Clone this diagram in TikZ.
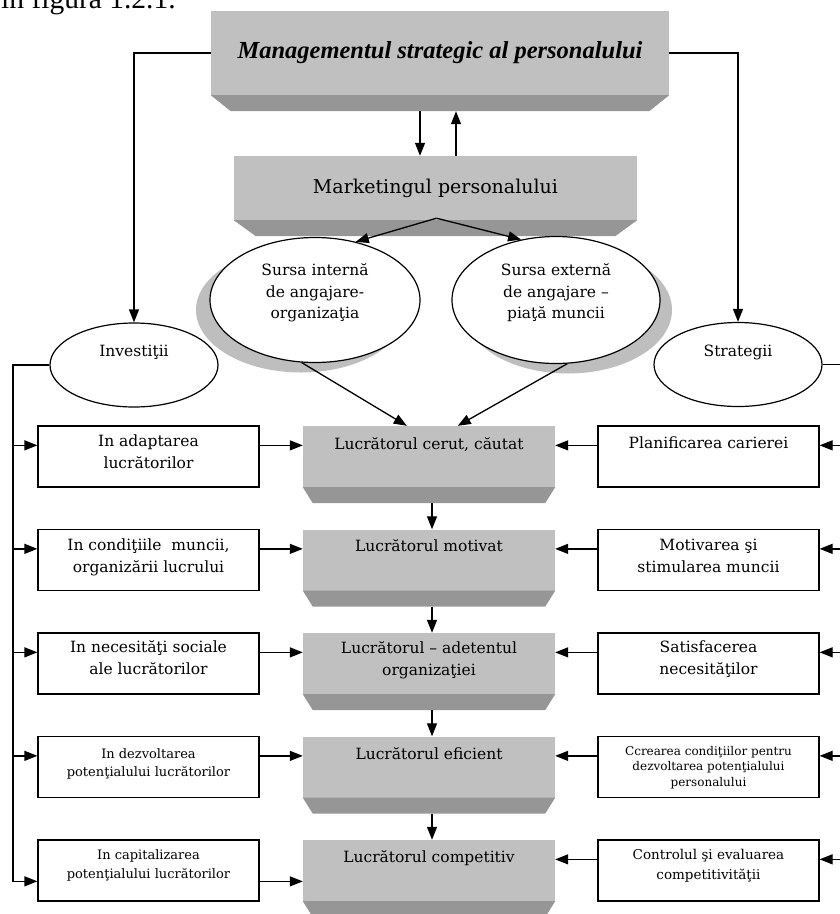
\documentclass[tikz,border=0pt]{standalone}
\usepackage{fontspec}
\setmainfont{DejaVu Serif}
\newfontfamily\titlefont{Liberation Serif}
\usetikzlibrary{arrows.meta,calc,shapes.geometric,shadows}
\definecolor{facegray}{RGB}{192,192,192}
\definecolor{bevelgray}{RGB}{150,150,150}
\definecolor{shadegray}{RGB}{190,190,190}
% darker lower face of a raised block: name, inset, depth
\newcommand\blockbevel[3]{%
  \fill[bevelgray] (#1.south west) -- (#1.south east)
    -- ($(#1.south east)+(-#2,#3)$) -- ($(#1.south west)+(#2,#3)$) -- cycle;}
\begin{document}
\begin{tikzpicture}[x=1pt,y=-1pt,
  every node/.style={inner sep=0pt},
  conn/.style={line width=1.3pt},
  arr/.style={conn,-{Triangle[length=13pt,width=10pt]}},
  face/.style={rectangle,fill=facegray},
  block/.style={face,minimum width=252pt,minimum height=61pt},
  sidebox/.style={rectangle,draw,line width=1.3pt,fill=white,minimum width=221pt,minimum height=61pt},
  ell/.style={ellipse,draw,fill=white,line width=1.2pt},
  shade/.style={drop shadow={shadow xshift=#1,shadow yshift=-10pt,fill=shadegray,opacity=1}},
  txt/.style={anchor=north,align=center,font=\fontsize{15.5}{22}\selectfont},
  smalltxt/.style={anchor=north,align=center,font=\fontsize{13}{18.5}\selectfont},
  etxt/.style={align=center,font=\fontsize{15.5}{21.5}\selectfont}]
\useasboundingbox (0,0) rectangle (840,914);

% line of running text above the scheme
\node[anchor=base west,font=\titlefont\fontsize{29.5}{30}\selectfont] (fig) at (1,8) {în figura 1.2.1.};

% top blocks
\node[face,minimum width=458pt,minimum height=84pt,
      font=\titlefont\bfseries\itshape\fontsize{24.5}{28}\selectfont] (tt) at (440,53)
      {Managementul strategic al personalului};
\blockbevel{tt}{20}{16}
\node[face,minimum width=403pt,minimum height=64pt,font=\fontsize{19}{22}\selectfont] (mk) at (435.5,188)
      {Marketingul personalului};
\blockbevel{mk}{22}{16}

\coordinate (tdn) at ($(tt.south)+(-20,16)$);
\coordinate (tup) at ($(tt.south)+(16,16)$);
\draw[arr] (tdn) -- (tdn |- mk.north);
\draw[arr] (tup |- mk.north) -- (tup);

% sources of recruitment
\node[ell,shade=-14pt,minimum width=210pt,minimum height=125pt] (si) at (315,300) {};
\node[ell,shade=12pt,minimum width=208pt,minimum height=127pt] (se) at (556,300) {};
\node[etxt] (sit) at (315,293) {Sursa internă\\de angajare-\\organizaţia};
\node[etxt] (set) at (556,293) {Sursa externă\\de angajare –\\piaţă muncii};
\coordinate (mks) at ($(mk.south)+(1,-2)$);
\draw[arr] (mks) -- (si.55);
\draw[arr] (mks) -- (se.120);

% investments and strategies
\node[ell,minimum width=168pt,minimum height=84pt] (inv) at (134,365) {};
\node[etxt] (invt) at (134,352) {Investiţii};
\node[ell,minimum width=168pt,minimum height=84pt] (str) at (738,364.5) {};
\node[etxt] (strt) at (738,352) {Strategii};
\draw[arr] (tt.west) -| (inv.north);
\draw[arr] (tt.east) -| (str.north);

% central column
\node[block] (c1) at (429,456.5) {};
\node[block] (c2) at (429,560) {};
\node[block] (c3) at (429,663.5) {};
\node[block] (c4) at (429,767) {};
\node[block] (c5) at (429,870.5) {};
\blockbevel{c1}{10}{16}
\blockbevel{c2}{10}{16}
\blockbevel{c3}{10}{16}
\blockbevel{c4}{10}{16}
\blockbevel{c5}{10}{16}
\node[txt] (c1t) at (c1.north) {\rule{0pt}{23pt}Lucrătorul cerut, căutat};
\node[txt] (c2t) at (c2.north) {\rule{0pt}{22pt}Lucrătorul motivat};
\node[txt] (c3t) at (c3.north) {\rule{0pt}{20pt}Lucrătorul – adetentul\\organizaţiei};
\node[txt] (c4t) at (c4.north) {\rule{0pt}{23pt}Lucrătorul eficient};
\node[txt] (c5t) at (c5.north) {\rule{0pt}{22pt}Lucrătorul competitiv};
\draw[arr] ($(c1.south)+(3,16)$) -- ($(c2.north)+(3,0)$);
\draw[arr] ($(c2.south)+(3,16)$) -- ($(c3.north)+(3,0)$);
\draw[arr] ($(c3.south)+(3,16)$) -- ($(c4.north)+(3,0)$);
\draw[arr] ($(c4.south)+(3,16)$) -- ($(c5.north)+(3,0)$);

\draw[arr] (si.258) -- ($(c1.north west)+(104,0)$);
\draw[arr] (se.280) -- ($(c1.north west)+(155,0)$);

% investment boxes
\node[sidebox] (l1) at (148.5,456.5) {};
\node[sidebox] (l2) at (148.5,560) {};
\node[sidebox] (l3) at (148.5,663.5) {};
\node[sidebox] (l4) at (148.5,767) {};
\node[sidebox] (l5) at (148.5,870.5) {};
\node[txt] (l1t) at (l1.north) {\rule{0pt}{21pt}In adaptarea\\lucrătorilor};
\node[txt] (l2t) at (l2.north) {\rule{0pt}{21pt}In condiţiile~ muncii,\\organizării lucrului};
\node[txt] (l3t) at (l3.north) {\rule{0pt}{20pt}In necesităţi sociale\\ale lucrătorilor};
\node[smalltxt] (l4t) at (l4.north) {\rule{0pt}{22pt}In dezvoltarea\\potenţialului lucrătorilor};
\node[smalltxt] (l5t) at (l5.north) {\rule{0pt}{20pt}In capitalizarea\\potenţialului lucrătorilor};

% strategy boxes
\node[sidebox] (r1) at (708.5,456.5) {};
\node[sidebox] (r2) at (708.5,560) {};
\node[sidebox] (r3) at (708.5,663.5) {};
\node[sidebox] (r4) at (708.5,767) {};
\node[sidebox] (r5) at (708.5,870.5) {};
\node[txt] (r1t) at (r1.north) {\rule{0pt}{23pt}Planificarea carierei};
\node[txt] (r2t) at (r2.north) {\rule{0pt}{21pt}Motivarea şi\\stimularea muncii};
\node[txt] (r3t) at (r3.north) {\rule{0pt}{20pt}Satisfacerea\\necesităţilor};
\node[anchor=north,align=center,font=\fontsize{12}{15.5}\selectfont] (r4t) at (r4.north)
     {\rule{0pt}{19pt}Ccrearea condiţiilor pentru\\dezvoltarea potenţialului\\personalului};
\node[anchor=north,align=center,font=\fontsize{13.5}{20}\selectfont] (r5t) at (r5.north)
     {\rule{0pt}{20pt}Controlul şi evaluarea\\competitivităţii};

% arrow levels on each row
\coordinate (la1) at ($(l1.north east)+(0,20)$);
\coordinate (la2) at ($(l2.north east)+(0,20)$);
\coordinate (la3) at ($(l3.north east)+(0,20)$);
\coordinate (la4) at ($(l4.north east)+(0,20)$);
\coordinate (la5) at ($(l5.north east)+(0,42)$);
\coordinate (ra1) at ($(r1.north west)+(0,20)$);
\coordinate (ra2) at ($(r2.north west)+(0,20)$);
\coordinate (ra3) at ($(r3.north west)+(0,20)$);
\coordinate (ra4) at ($(r4.north west)+(0,20)$);
\coordinate (ra5) at ($(r5.north west)+(0,20)$);

% boxes into the central column
\foreach \i in {1,...,5}{
  \draw[arr] (la\i) -- (la\i -| c\i.west);
  \draw[arr] (ra\i) -- (ra\i -| c\i.east);
}

% left bus from Investiţii
\coordinate (busL) at (13,365);
\draw[arr] (inv.west) -- (busL) -- (busL |- la5) -- (la5 -| l5.west);
\foreach \i in {1,...,4}{
  \draw[arr] (busL |- la\i) -- (la\i -| l\i.west);
}

% right bus from Strategii
\coordinate (busR) at (843,364.5);
\draw[conn] (str.east) -- (busR) -- (busR |- ra5);
\foreach \i in {1,...,5}{
  \draw[arr] (busR |- ra\i) -- (ra\i -| r\i.east);
}
\end{tikzpicture}
\end{document}
